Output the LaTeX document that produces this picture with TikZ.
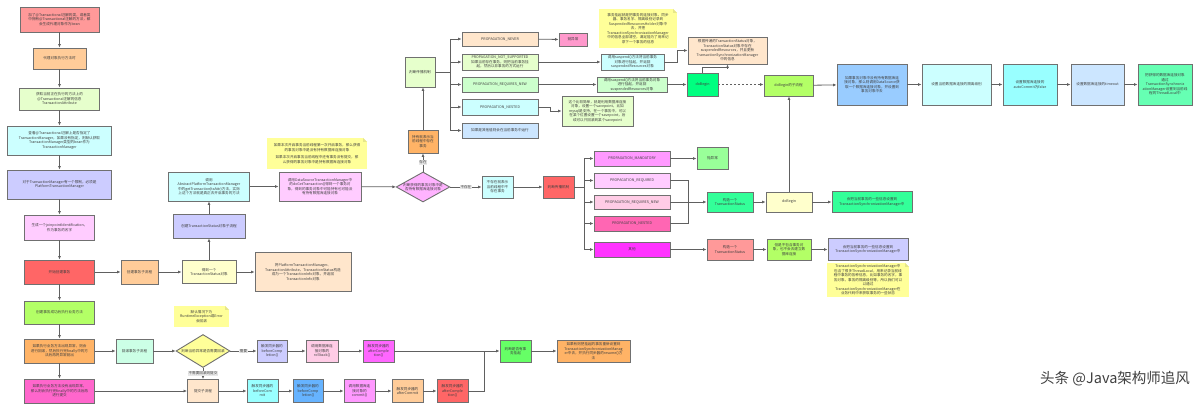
\documentclass[tikz,border=0pt]{standalone}
\usepackage{fontspec}
\setmainfont{Noto Sans CJK SC}
\usetikzlibrary{arrows.meta,shapes.geometric,calc}
\definecolor{cRed}{HTML}{FF9999}
\definecolor{cOrg}{HTML}{FFCC99}
\definecolor{cLg}{HTML}{E6FFCC}
\definecolor{cCy}{HTML}{CCFFFF}
\definecolor{cLav}{HTML}{CCCCFF}
\definecolor{cPk}{HTML}{FFCCFF}
\definecolor{cRd}{HTML}{FF6666}
\definecolor{cYg}{HTML}{B3FF66}
\definecolor{cOr2}{HTML}{FFB366}
\definecolor{cMag}{HTML}{FF66CC}
\definecolor{cLy}{HTML}{FFFFCC}
\definecolor{cPch}{HTML}{FFE6CC}
\definecolor{cNote}{HTML}{FFFF99}
\definecolor{cFold}{HTML}{E6E68A}
\definecolor{cDia}{HTML}{FFB3FF}
\definecolor{cGr}{HTML}{CCFFCC}
\definecolor{cBl}{HTML}{CCE6FF}
\definecolor{cThr}{HTML}{FF99CC}
\definecolor{cDb}{HTML}{00FF80}
\definecolor{cB1}{HTML}{99CCFF}
\definecolor{cAq}{HTML}{99FFFF}
\definecolor{cMint}{HTML}{66FFB3}
\definecolor{cMand}{HTML}{FF99FF}
\definecolor{cRq}{HTML}{FFCCE6}
\definecolor{cNest}{HTML}{FF66B3}
\definecolor{cOth}{HTML}{FF33FF}
\definecolor{cGnn}{HTML}{99FF99}
\definecolor{cG33}{HTML}{33FF99}
\definecolor{cMint2}{HTML}{CCFFE6}
\definecolor{cMagb}{HTML}{FF66FF}
\definecolor{cG66}{HTML}{66FF66}
\definecolor{cBlue}{HTML}{66B3FF}
\definecolor{bord}{HTML}{707070}
\definecolor{lnc}{HTML}{606060}
\definecolor{txt}{HTML}{404040}
\definecolor{lblg}{HTML}{E8E8E8}
\tikzset{
  box/.style={draw=bord, line width=0.9pt, inner sep=0.5pt, align=center, text=txt,
    font=\fontsize{3.6}{4.5}\selectfont},
  dia/.style={box, diamond, aspect=1.8, inner sep=0pt},
  note/.style={fill=cNote, inner sep=0.5pt, align=center, text=txt,
    font=\fontsize{3.6}{4.5}\selectfont,
    path picture={
      \fill[white] ($(path picture bounding box.north east)+(-4pt,0)$) -- (path picture bounding box.north east) -- ++(0,-4pt) -- cycle;
      \fill[cFold] ($(path picture bounding box.north east)+(-4pt,0)$) -- ++(4pt,-4pt) -- ++(-4pt,0) -- cycle;}},
  ln/.style={draw=lnc, line width=0.8pt},
  arr/.style={ln, -{Latex[length=3.5pt,width=3pt]}},
  lbl/.style={fill=lblg, inner sep=0.6pt, text=txt, font=\fontsize{3.6}{4.5}\selectfont},
}
\begin{document}
\begin{tikzpicture}[x=1pt,y=-1pt]
\useasboundingbox (0,0) rectangle (1200,411);
\fill[white] (0,0) rectangle (1200,411);

% ---------- left column ----------
\node[box,fill=cRed,minimum width=79pt,minimum height=25pt] (n1) at (59.5,19.5) {加了@Transactional注解的类，或者类\\中拥有@Transactional注解的方法，都\\会生成代理对象作为bean};
\node[box,fill=cOrg,minimum width=53pt,minimum height=21pt] (n2) at (59.5,58.5) {代理对象执行方法时};
\node[box,fill=cLg,minimum width=80pt,minimum height=22pt] (n3) at (59.5,99) {获取当前正在执行的方法上的\\@Transactional注解的信息\\TransactionAttribute};
\node[box,fill=cCy,minimum width=104pt,minimum height=29pt] (n4) at (59.5,140.5) {查看@Transactional注解上是否指定了\\TransactionManager，如果没有指定，则默认获取\\TransactionManager类型的bean作为\\TransactionManager};
\node[box,fill=cLav,minimum width=104pt,minimum height=29pt] (n5) at (59.5,184.5) {对于TransactionManager有一个限制，必须是\\PlatformTransactionManager};
\node[box,fill=cPk,minimum width=70pt,minimum height=25pt] (n6) at (59.5,227.5) {生成一个joinpointIdentification，\\作为事务的名字};
\node[box,fill=cRd,minimum width=70pt,minimum height=24pt] (n7) at (59.5,272) {开始创建事务};
\node[box,fill=cYg,minimum width=70pt,minimum height=23pt] (n8) at (59.5,312.5) {创建事务成功后执行业务方法};
\node[box,fill=cOr2,minimum width=70pt,minimum height=24pt] (n9) at (59.5,351) {如果执行业务方法出现异常，则会\\进行回滚，然后执行完finally中的方\\法后再将异常抛出};
\node[box,fill=cMag,minimum width=70pt,minimum height=24pt] (n10) at (59.5,391) {如果执行业务方法没有出现异常，\\那么则会执行完finally中的方法后再\\进行提交};

% ---------- create transaction ----------
\node[box,fill=cOrg,minimum width=37pt,minimum height=24pt] (n11) at (139.5,272) {创建事务子流程};
\node[box,fill=cLy,minimum width=54pt,minimum height=23pt] (n12) at (209,272) {得到一个\\TransactionStatus对象};
\node[box,fill=cPch,minimum width=96pt,minimum height=39pt] (n13) at (303,272) {将PlatformTransactionManager、\\TransactionAttribute、TransactionStatus构造\\成为一个TransactionInfo对象，并返回\\TransactionInfo对象};
\node[box,fill=cLav,minimum width=72pt,minimum height=24pt] (n14) at (209,226) {创建TransactionStatus对象子流程};
\node[box,fill=cCy,minimum width=81pt,minimum height=29pt] (n15) at (209,186.5) {调用\\AbstractPlatformTransactionManager\\中的getTransaction(txAttr)方法，实际\\上这个方法就是真正去开启事务的方法};
\node[box,fill=cPk,minimum width=82pt,minimum height=29pt] (n16) at (320,186.5) {调用DataSourceTransactionManager中\\的doGetTransaction()得到一个事务对\\象，得到的事务对象中可能持有也可能没\\有持有数据库连接对象};
\node[note,minimum width=100pt,minimum height=31pt] (note1) at (317,153.5) {如果本次开启事务当前线程第一次开启事务，那么获得\\的事务对象中是没有持有数据库连接对象\\[3pt]如果本次开启事务当前线程中还有事务没有提交，那\\么获得的事务对象中是持有数据库连接对象};
\node[dia,fill=cDia,minimum width=53pt,minimum height=30pt] (d1) at (423,187) {判断获得的事务对象中是\\否持有数据库连接对象};

% ---------- existing transaction ----------
\node[box,fill=cOr2,minimum width=30pt,minimum height=23pt] (n17) at (423,141.5) {持有就表示当\\前线程中存在\\事务};
\node[box,fill=cLg,minimum width=30pt,minimum height=30pt] (n18) at (420,72) {判断传播机制};
\node[box,fill=cPch,minimum width=76pt,minimum height=14pt] (p1) at (500,39) {PROPAGATION\_NEVER};
\node[box,fill=cLg,minimum width=76pt,minimum height=16pt] (p2) at (500,62) {PROPAGATION\_NOT\_SUPPORTED\\如果当前存在事务，则把当前事务挂\\起，然后以非事务的方式运行};
\node[box,fill=cGr,minimum width=76pt,minimum height=15pt] (p3) at (500,84.5) {PROPAGATION\_REQUIRES\_NEW};
\node[box,fill=cCy,minimum width=76pt,minimum height=16pt] (p4) at (500,107) {PROPAGATION\_NESTED};
\node[box,fill=cBl,minimum width=76pt,minimum height=15pt] (p5) at (500,130.5) {如果是其他值则会在当前事务中运行};
\node[box,fill=cThr,minimum width=28pt,minimum height=13pt] (e1) at (573,39.5) {抛异常};
\node[box,fill=cCy,minimum width=63pt,minimum height=16pt] (s1) at (632.5,62) {调用suspend()方法将当前事务\\对象进行挂起，并返回\\suspendedResources对象};
\node[box,fill=cGr,minimum width=70pt,minimum height=15pt] (s2) at (632,84.5) {调用suspend()方法将当前事务对象\\进行挂起，并返回\\suspendedResources对象};
\node[box,fill=cLg,minimum width=71pt,minimum height=30pt] (nn) at (597.5,111) {这个比较简单，就是利用数据库连接\\对象，设置一个savepoint，比如\\mysql是支持，在一个事务中，可以\\在某个位置设置一个savepoint，后\\续可以只回滚到某个savepoint};
\node[note,minimum width=78pt,minimum height=39pt] (note2) at (638,28.5) {事务挂起就是把事务的连接对象、同步\\器、事务名字、隔离级别记录到\\SuspendedResourcesHolder对象中\\去，并把\\TransactionSynchronizationManager\\中的信息全部清空，满足能为了用来记\\录下一个事务的信息};
\node[box,fill=cPch,minimum width=79pt,minimum height=27pt] (t1) at (727.5,50.5) {根据传递的TransactionStatus对象，\\TransactionStatus对象中存在\\suspendedResources，并且更新\\TransactionSynchronizationManager\\中的信息};
\node[box,fill=cDb,minimum width=31pt,minimum height=23pt] (db1) at (702.5,84.5) {doBegin};
\node[box,fill=cYg,minimum width=49pt,minimum height=21pt] (sub) at (788.5,85.5) {doBegin的子流程};
\node[box,fill=cB1,minimum width=70pt,minimum height=41pt] (b1) at (872,84.5) {如果事务对象中没有持有数据库连\\接对象，那么则调用DataSource获\\取一个数据库连接对象，并设置到\\事务对象中去};
\node[box,fill=cCy,minimum width=69pt,minimum height=41pt] (b2) at (956.5,84.5) {设置当前数据库连接的隔离级别};
\node[box,fill=cAq,minimum width=54pt,minimum height=41pt] (b3) at (1030,84.5) {设置数据库连接的\\autoCommit为false};
\node[box,fill=cBl,minimum width=53pt,minimum height=41pt] (b4) at (1097.5,84.5) {设置数据库连接的timeout};
\node[box,fill=cMint,minimum width=54pt,minimum height=41pt] (b5) at (1165,84.5) {把获得的数据库连接对象\\通过\\TransactionSynchroniz\\ationManager设置到当前线\\程的ThreadLocal中};

% ---------- no transaction ----------
\node[box,fill=cCy,minimum width=31pt,minimum height=22pt] (c1) at (497.5,187) {不存在就表示\\当前线程中不\\存在事务};
\node[box,fill=cRd,minimum width=31pt,minimum height=22pt] (r1) at (558.5,187) {判断传播机制};
\node[box,fill=cMand,minimum width=76pt,minimum height=15pt] (q1) at (632,158.5) {PROPAGATION\_MANDATORY};
\node[box,fill=cPk,minimum width=76pt,minimum height=15pt] (q2) at (632,180.5) {PROPAGATION\_REQUIRED};
\node[box,fill=cRq,minimum width=76pt,minimum height=14pt] (q3) at (632,202) {PROPAGATION\_REQUIRES\_NEW};
\node[box,fill=cNest,minimum width=76pt,minimum height=15pt] (q4) at (632,223.5) {PROPAGATION\_NESTED};
\node[box,fill=cOth,minimum width=76pt,minimum height=15pt] (q5) at (632,249.5) {其他};
\node[box,fill=cGnn,minimum width=31pt,minimum height=22pt] (e2) at (712.5,158.5) {抛异常};
\node[box,fill=cG33,minimum width=46pt,minimum height=20pt] (g1) at (730,202) {构造一个\\TransactionStatus};
\node[box,fill=cLy,minimum width=46pt,minimum height=20pt] (g2) at (789,202) {doBegin};
\node[box,fill=cG33,minimum width=80pt,minimum height=21pt] (g3) at (872,202) {会把当前事务的一些信息设置到\\TransactionSynchronizationManager中};
\node[box,fill=cRed,minimum width=46pt,minimum height=21pt] (h1) at (730,249.5) {构造一个\\TransactionStatus};
\node[box,fill=cYg,minimum width=44pt,minimum height=21pt] (h2) at (789,249.5) {但是不包含事务对\\象，也不会去建立数\\据库连接};
\node[box,fill=cLav,minimum width=80pt,minimum height=22pt] (h3) at (868,249.5) {会把当前事务的一些信息设置到\\TransactionSynchronizationManager中};
\node[note,minimum width=82pt,minimum height=34pt] (note3) at (868,280) {TransactionSynchronizationManager中\\包含了很多ThreadLocal，用来记录当前线\\程中事务的各种信息，比如事务的名字，事\\务对象，事务的隔离级别等，所以我们可以\\以通过\\TransactionSynchronizationManager在\\业务代码中来获取事务的一些状态};

% ---------- rollback / commit ----------
\node[box,fill=cMint2,minimum width=37pt,minimum height=24pt] (k1) at (134.5,351) {回滚事务子流程};
\node[dia,fill=cNote,minimum width=54pt,minimum height=33pt] (d2) at (203,351) {判断当前异常是否需要回滚};
\node[note,minimum width=55pt,minimum height=21pt] (note4) at (201.5,316.5) {默认情况下为\\RuntimeException或Error\\会回滚};
\node[box,fill=cLav,minimum width=30pt,minimum height=22pt] (k2) at (272,351) {触发同步器的\\beforeComp\\letion()};
\node[box,fill=cRq,minimum width=32pt,minimum height=22pt] (k3) at (322,351) {调用数据库连\\接对象的\\rollback()};
\node[box,fill=cMagb,minimum width=31pt,minimum height=22pt] (k4) at (378.5,351) {触发同步器的\\afterComple\\tion()};
\node[box,fill=cG66,minimum width=31pt,minimum height=22pt] (k5) at (515.5,351) {判断是否有事\\务挂起};
\node[box,fill=cOr2,minimum width=73pt,minimum height=22pt] (k6) at (593.5,351) {如果有则把挂起的事务重新设置到\\TransactionSynchronizationManag\\er中去，并执行同步器的resume()方\\法};
\node[box,fill=cPch,minimum width=31pt,minimum height=23pt] (m1) at (203,391) {提交子流程};
\node[box,fill=cAq,minimum width=31pt,minimum height=23pt] (m2) at (262.5,391) {触发同步器的\\beforeCom\\mit};
\node[box,fill=cBlue,minimum width=30pt,minimum height=23pt] (m3) at (308,391) {触发同步器的\\beforeComp\\letion()};
\node[box,fill=cMand,minimum width=31pt,minimum height=23pt] (m4) at (359.5,391) {调用数据库连\\接对象的\\commit()};
\node[box,fill=cOrg,minimum width=31pt,minimum height=23pt] (m5) at (407.5,391) {触发同步器的\\afterCommit};
\node[box,fill=cRd,minimum width=31pt,minimum height=23pt] (m6) at (452.5,391) {触发同步器的\\afterComple\\tion()};
\coordinate (mg) at (484,351);

% watermark
\node[text=black!75, font=\fontsize{14.5}{16}\selectfont, inner sep=0pt] (wm) at (1115,379) {头条 @Java架构师追风};

% ---------- connectors ----------
\draw[arr] (n1) -- (n2);
\draw[arr] (n2) -- (n3);
\draw[arr] (n3) -- (n4);
\draw[arr] (n4) -- (n5);
\draw[arr] (n5) -- (n6);
\draw[arr] (n6) -- (n7);
\draw[arr] (n7) -- (n8);
\draw[arr] (n8) -- (n9);
\draw[arr] (n9) -- (n10);
\draw[arr] (n7) -- (n11);
\draw[arr] (n11) -- (n12);
\draw[arr] (n12) -- (n13);
\draw[arr] (n12) -- (n14);
\draw[arr] (n14) -- (n15);
\draw[arr] (n15) -- (n16);
\draw[arr] (n16) -- (d1);
\draw[arr] (d1.north) -- node[lbl]{存在} (n17.south);
\draw[arr] (n17.north) -- (n17.north |- n18.south);
% bus 1
\coordinate (bus1) at (450,72);
\draw[ln] (n18.east |- bus1) -- (bus1);
\draw[ln] (bus1 |- p1.west) -- (bus1 |- p5.west);
\foreach \p in {p1,p2,p3,p4,p5} \draw[arr] (bus1 |- \p.west) -- (\p.west);
\draw[arr] (p1) -- (e1);
\draw[arr] (p2) -- (s1);
\draw[arr] (s1.east) -- ++(13,0) |- (t1.west);
\draw[arr] (p3) -- (s2);
\draw[arr] (s2) -- (db1);
\draw[arr] (db1.north) -- ++(0,-5) -| (t1.south);
\draw[arr] (p4.east) -- ++(12,0) |- (nn.west);
\draw[arr, dash pattern=on 2pt off 2pt] (db1.east) -- (db1.east -| sub.west);
\draw[arr] (sub) -- (b1);
\draw[arr] (b1) -- (b2);
\draw[arr] (b2) -- (b3);
\draw[arr] (b3) -- (b4);
\draw[arr] (b4) -- (b5);
% no transaction
\draw[arr] (d1) -- node[lbl]{不存在} (c1);
\draw[arr] (c1) -- (r1);
\coordinate (bus2) at (584,187);
\draw[ln] (r1.east) -- (bus2);
\draw[ln] (bus2 |- q1.west) -- (bus2 |- q5.west);
\foreach \q in {q1,q2,q3,q4,q5} \draw[arr] (bus2 |- \q.west) -- (\q.west);
\draw[arr] (q1) -- (e2);
\draw[ln] (q2.east) -- ++(18,0) |- (q4.east);
\draw[arr] (q3) -- (g1);
\draw[arr] (g1) -- (g2);
\draw[arr] (g2) -- (g3);
\draw[arr] (g2.north) -- (g2.north |- sub.south);
\draw[arr] (q5) -- (h1);
\draw[arr] (h1) -- (h2);
\draw[arr] (h2) -- (h3);
% rollback / commit
\draw[arr] (n9) -- (k1);
\draw[arr] (k1) -- (d2);
\draw[arr] (d2) -- node[lbl]{需要} (k2);
\draw[arr] (k2) -- (k3);
\draw[arr] (k3) -- (k4);
\draw[arr] (k4) -- (k5);
\draw[arr] (k5) -- (k6);
\draw[arr] (d2.south) -- node[lbl]{不需要回滚则提交} (m1.north);
\draw[arr] (n10) -- (m1);
\draw[arr] (m1) -- (m2);
\draw[arr] (m2) -- (m3);
\draw[arr] (m3) -- (m4);
\draw[arr] (m4) -- (m5);
\draw[arr] (m5) -- (m6);
\draw[ln] (m6.east) -| (mg);
\end{tikzpicture}
\end{document}
